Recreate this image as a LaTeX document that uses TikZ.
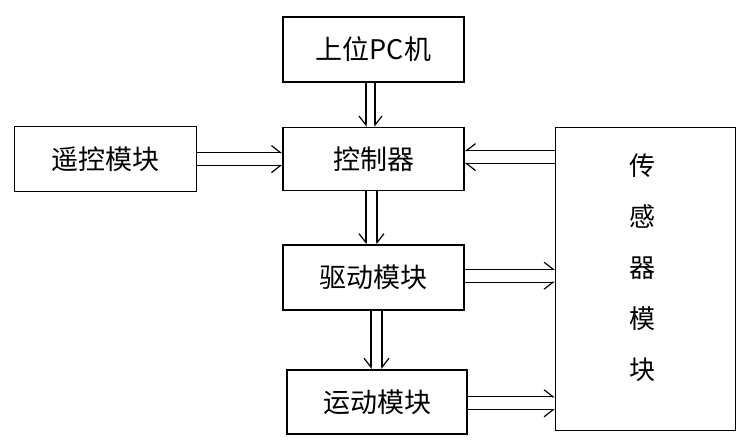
\documentclass[tikz,border=0pt]{standalone}
\usepackage{fontspec}
\newfontfamily\cjk{Noto Sans CJK SC}
\usetikzlibrary{positioning, arrows.meta}

\begin{document}
\begin{tikzpicture}[x=1pt, y=-1pt,
    node distance=44pt and 85pt,
    module/.style={rectangle, draw, line width=1.6pt,
      minimum width=181pt, minimum height=65pt, align=center,
      font=\cjk\fontsize{27}{30}\selectfont},
    arrow/.style={line width=1.2pt, -{Straight Barb[harpoon, length=9pt, width=14pt]}},
    arrowsw/.style={line width=1.2pt, -{Straight Barb[harpoon, swap, length=9pt, width=14pt]}}]

    \useasboundingbox (0,0) rectangle (750,443);

    % Modules
    \node[module] (pc) at (373.5,49.5) {上位PC机};
    \node[module, minimum height=63pt, below=44pt of pc] (ctrl) {控制器};
    \node[module, minimum width=182pt, left=85pt of ctrl] (remote) {遥控模块};
    \node[module, minimum width=180pt, minimum height=303pt,
      right=90pt of ctrl.north east, anchor=north west] (sensor) {};
    \node[font=\cjk\fontsize{26}{51}\selectfont, align=center]
      (sensortxt) at ([xshift=-3pt, yshift=11pt]sensor.center) {传\\感\\器\\模\\块};
    \node[module, below=53pt of ctrl] (drive) {驱动模块};
    \node[module, minimum width=180pt, minimum height=64pt,
      below=58pt of drive, xshift=3.5pt] (motion) {运动模块};

    % Flechas
    \draw[arrowsw] ([xshift=-7.5pt]pc.south) -- ([xshift=-7.5pt]pc.south |- ctrl.north);
    \draw[arrow] ([xshift=1.5pt]pc.south) -- ([xshift=1.5pt]pc.south |- ctrl.north);
    \draw[arrow] ([yshift=6.5pt]remote.east) -- ([yshift=6.5pt]remote.east -| ctrl.west);
    \draw[arrowsw] ([yshift=-6.5pt]remote.east) -- ([yshift=-6.5pt]remote.east -| ctrl.west);
    \draw[arrowsw] ([yshift=8.5pt]ctrl.east -| sensor.west) -- ([yshift=8.5pt]ctrl.east);
    \draw[arrow] ([yshift=-4.5pt]ctrl.east -| sensor.west) -- ([yshift=-4.5pt]ctrl.east);
    \draw[arrowsw] ([xshift=-7.5pt]ctrl.south) -- ([xshift=-7.5pt]ctrl.south |- drive.north);
    \draw[arrow] ([xshift=3.5pt]ctrl.south) -- ([xshift=3.5pt]ctrl.south |- drive.north);
    \draw[arrowsw] ([xshift=-2.5pt]drive.south) -- ([xshift=-2.5pt]drive.south |- motion.north);
    \draw[arrow] ([xshift=8.5pt]drive.south) -- ([xshift=8.5pt]drive.south |- motion.north);
    \draw[arrow] ([yshift=8.5pt]drive.east) -- ([yshift=8.5pt]drive.east -| sensor.west);
    \draw[arrowsw] ([yshift=-4.5pt]drive.east) -- ([yshift=-4.5pt]drive.east -| sensor.west);
    \draw[arrow] ([yshift=5pt]motion.east) -- ([yshift=5pt]motion.east -| sensor.west);
    \draw[arrowsw] ([yshift=-8pt]motion.east) -- ([yshift=-8pt]motion.east -| sensor.west);
  \end{tikzpicture}
\end{document}
